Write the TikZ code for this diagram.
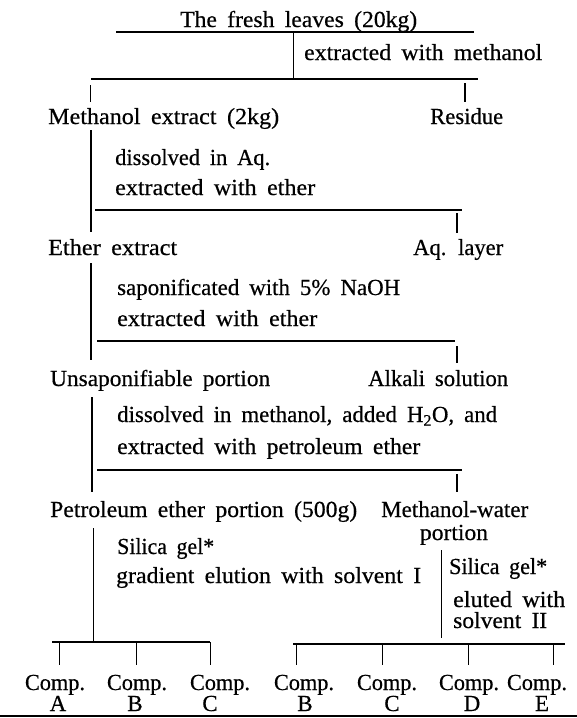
\documentclass[tikz,border=0pt]{standalone}
\usepackage{fontspec}
\setmainfont[FakeBold=0.5]{Liberation Serif}
\usepackage{graphicx}
\newlength\wordgap
\setlength\wordgap{10pt}
\newcommand\fw[2]{{\spaceskip\wordgap\relax\resizebox{#1pt}{\height}{#2}}}
\tikzset{
  lbl/.style={anchor=base west, inner sep=0pt, font=\fontsize{23}{27}\selectfont},
  clbl/.style={anchor=base, inner sep=0pt, font=\fontsize{23}{27}\selectfont},
  ln/.style={line width=1.2pt},
  lnthin/.style={line width=0.8pt},
  lnbottom/.style={line width=1.8pt}
}
\begin{document}
\begin{tikzpicture}[x=1pt,y=-1pt]
\useasboundingbox (0,0) rectangle (577,718);
% ---------- text nodes ----------
\node[lbl] (fresh)  at (180,27)  {\fw{237}{The fresh leaves (20kg)}};
\node[lbl] (op1)    at (304,60)  {\fw{238}{extracted with methanol}};
\node[lbl] (mext)   at (48,124)  {\fw{231}{Methanol extract (2kg)}};
\node[lbl] (res)    at (430,124) {\fw{73}{Residue}};
\node[lbl] (op2a)   at (115,165) {\fw{155}{dissolved in Aq.}};
\node[lbl] (op2b)   at (115,195) {\fw{200}{extracted with ether}};
\node[lbl] (eext)   at (48,255)  {\fw{129}{Ether extract}};
\node[lbl] (aq)     at (413,255) {\fw{90}{Aq. layer}};
\node[lbl] (op3a)   at (117,295) {\fw{283}{saponificated with 5\% NaOH}};
\node[lbl] (op3b)   at (117,326) {\fw{200}{extracted with ether}};
\node[lbl] (unsap)  at (50,386)  {\fw{220}{Unsaponifiable portion}};
\node[lbl] (alk)    at (368,386) {\fw{140}{Alkali solution}};
\node[lbl] (op4a)   at (117,422) {\fw{380}{dissolved in methanol, added H\textsubscript{2}O, and}};
\node[lbl] (op4b)   at (117,454) {\fw{303}{extracted with petroleum ether}};
\node[lbl] (petro)  at (50,517)  {\fw{307}{Petroleum ether portion (500g)}};
\node[lbl] (mw)     at (381,517) {\fw{147}{Methanol-water}};
\node[clbl] (mwp)   at (454,540) {\fw{68}{portion}};
\node[lbl] (op5a)   at (117,554) {\fw{97}{Silica gel*}};
\node[lbl] (op5b)   at (116,583) {\fw{305}{gradient elution with solvent I}};
\node[lbl] (op6a)   at (449,574) {\fw{98}{Silica gel*}};
\node[lbl] (op6b)   at (453,607) {\fw{112}{eluted with}};
\node[lbl] (op6c)   at (453,628) {\fw{94}{solvent II}};
% compounds
\foreach \n/\cx/\lx/\ch in {cA/55/58/A, cB/137/135/B, cC/220/210/C, cBb/304/305/B, cCc/387/392/C, cD/469/472/D, cE/537/542/E}{
  \node[clbl] (\n) at (\cx,690) {\fw{60}{Comp.}};
  \node[clbl] (\n l) at (\lx,711) {\ch};
}
% ---------- connector coordinates ----------
\coordinate (b1l) at (116,32);  \coordinate (b1r) at (474,32);
\coordinate (s1t) at (293,32);  \coordinate (s1b) at (293,78);
\coordinate (b2l) at (91,79);   \coordinate (b2r) at (478,79);
\coordinate (d2l) at (90,85);   \coordinate (d2lb) at (90,102);
\coordinate (d2r) at (465,83);  \coordinate (d2rb) at (465,102);
\coordinate (s2t) at (91,130);  \coordinate (s2b) at (91,232);
\coordinate (b3l) at (95,210);  \coordinate (b3r) at (462,210);
\coordinate (d3r) at (457,213); \coordinate (d3rb) at (457,233);
\coordinate (s3t) at (91,263);  \coordinate (s3b) at (91,360);
\coordinate (b4l) at (97,341);  \coordinate (b4r) at (455,341);
\coordinate (d4r) at (457,346); \coordinate (d4rb) at (457,363);
\coordinate (s4t) at (92,397);  \coordinate (s4b) at (92,492);
\coordinate (b5l) at (97,470);  \coordinate (b5r) at (462,470);
\coordinate (d5r) at (457,474); \coordinate (d5rb) at (457,492);
\coordinate (s5t) at (93,528);  \coordinate (s5b) at (93,641);
\coordinate (s6t) at (441,550); \coordinate (s6b) at (441,638);
\coordinate (b6l) at (52,642);  \coordinate (b6r) at (210,642);
\coordinate (b7l) at (293,644); \coordinate (b7r) at (565,644);
\coordinate (botl) at (0,716);  \coordinate (botr) at (577,716);
% ---------- connectors ----------
\draw[ln] (b1l) -- (b1r);
\draw[lnthin] (s1t) -- (s1b);
\draw[ln] (b2l) -- (b2r);
\draw[lnthin] (d2l) -- (d2lb);
\draw[ln] (d2r) -- (d2rb);
\draw[ln] (s2t) -- (s2b);
\draw[ln] (b3l) -- (b3r);
\draw[ln] (d3r) -- (d3rb);
\draw[ln] (s3t) -- (s3b);
\draw[ln] (b4l) -- (b4r);
\draw[line width=1.6pt] (d4r) -- (d4rb);
\draw[ln] (s4t) -- (s4b);
\draw[ln] (b5l) -- (b5r);
\draw[ln] (d5r) -- (d5rb);
\draw[lnthin] (s5t) -- (s5b);
\draw[lnthin] (s6t) -- (s6b);
\draw[ln] (b6l) -- (b6r);
\draw[ln] (b7l) -- (b7r);
\foreach \n/\x/\y in {A/59/642, B/136/642, C/210/642, Bb/296/644, Cc/382/644, D/468/644, E/553/644}{
  \coordinate (t\n) at (\x,\y);
  \coordinate (u\n) at (\x,665);
  \draw[lnthin] (t\n) -- (u\n);
}
\draw[lnbottom] (botl) -- (botr);
\end{tikzpicture}
\end{document}
